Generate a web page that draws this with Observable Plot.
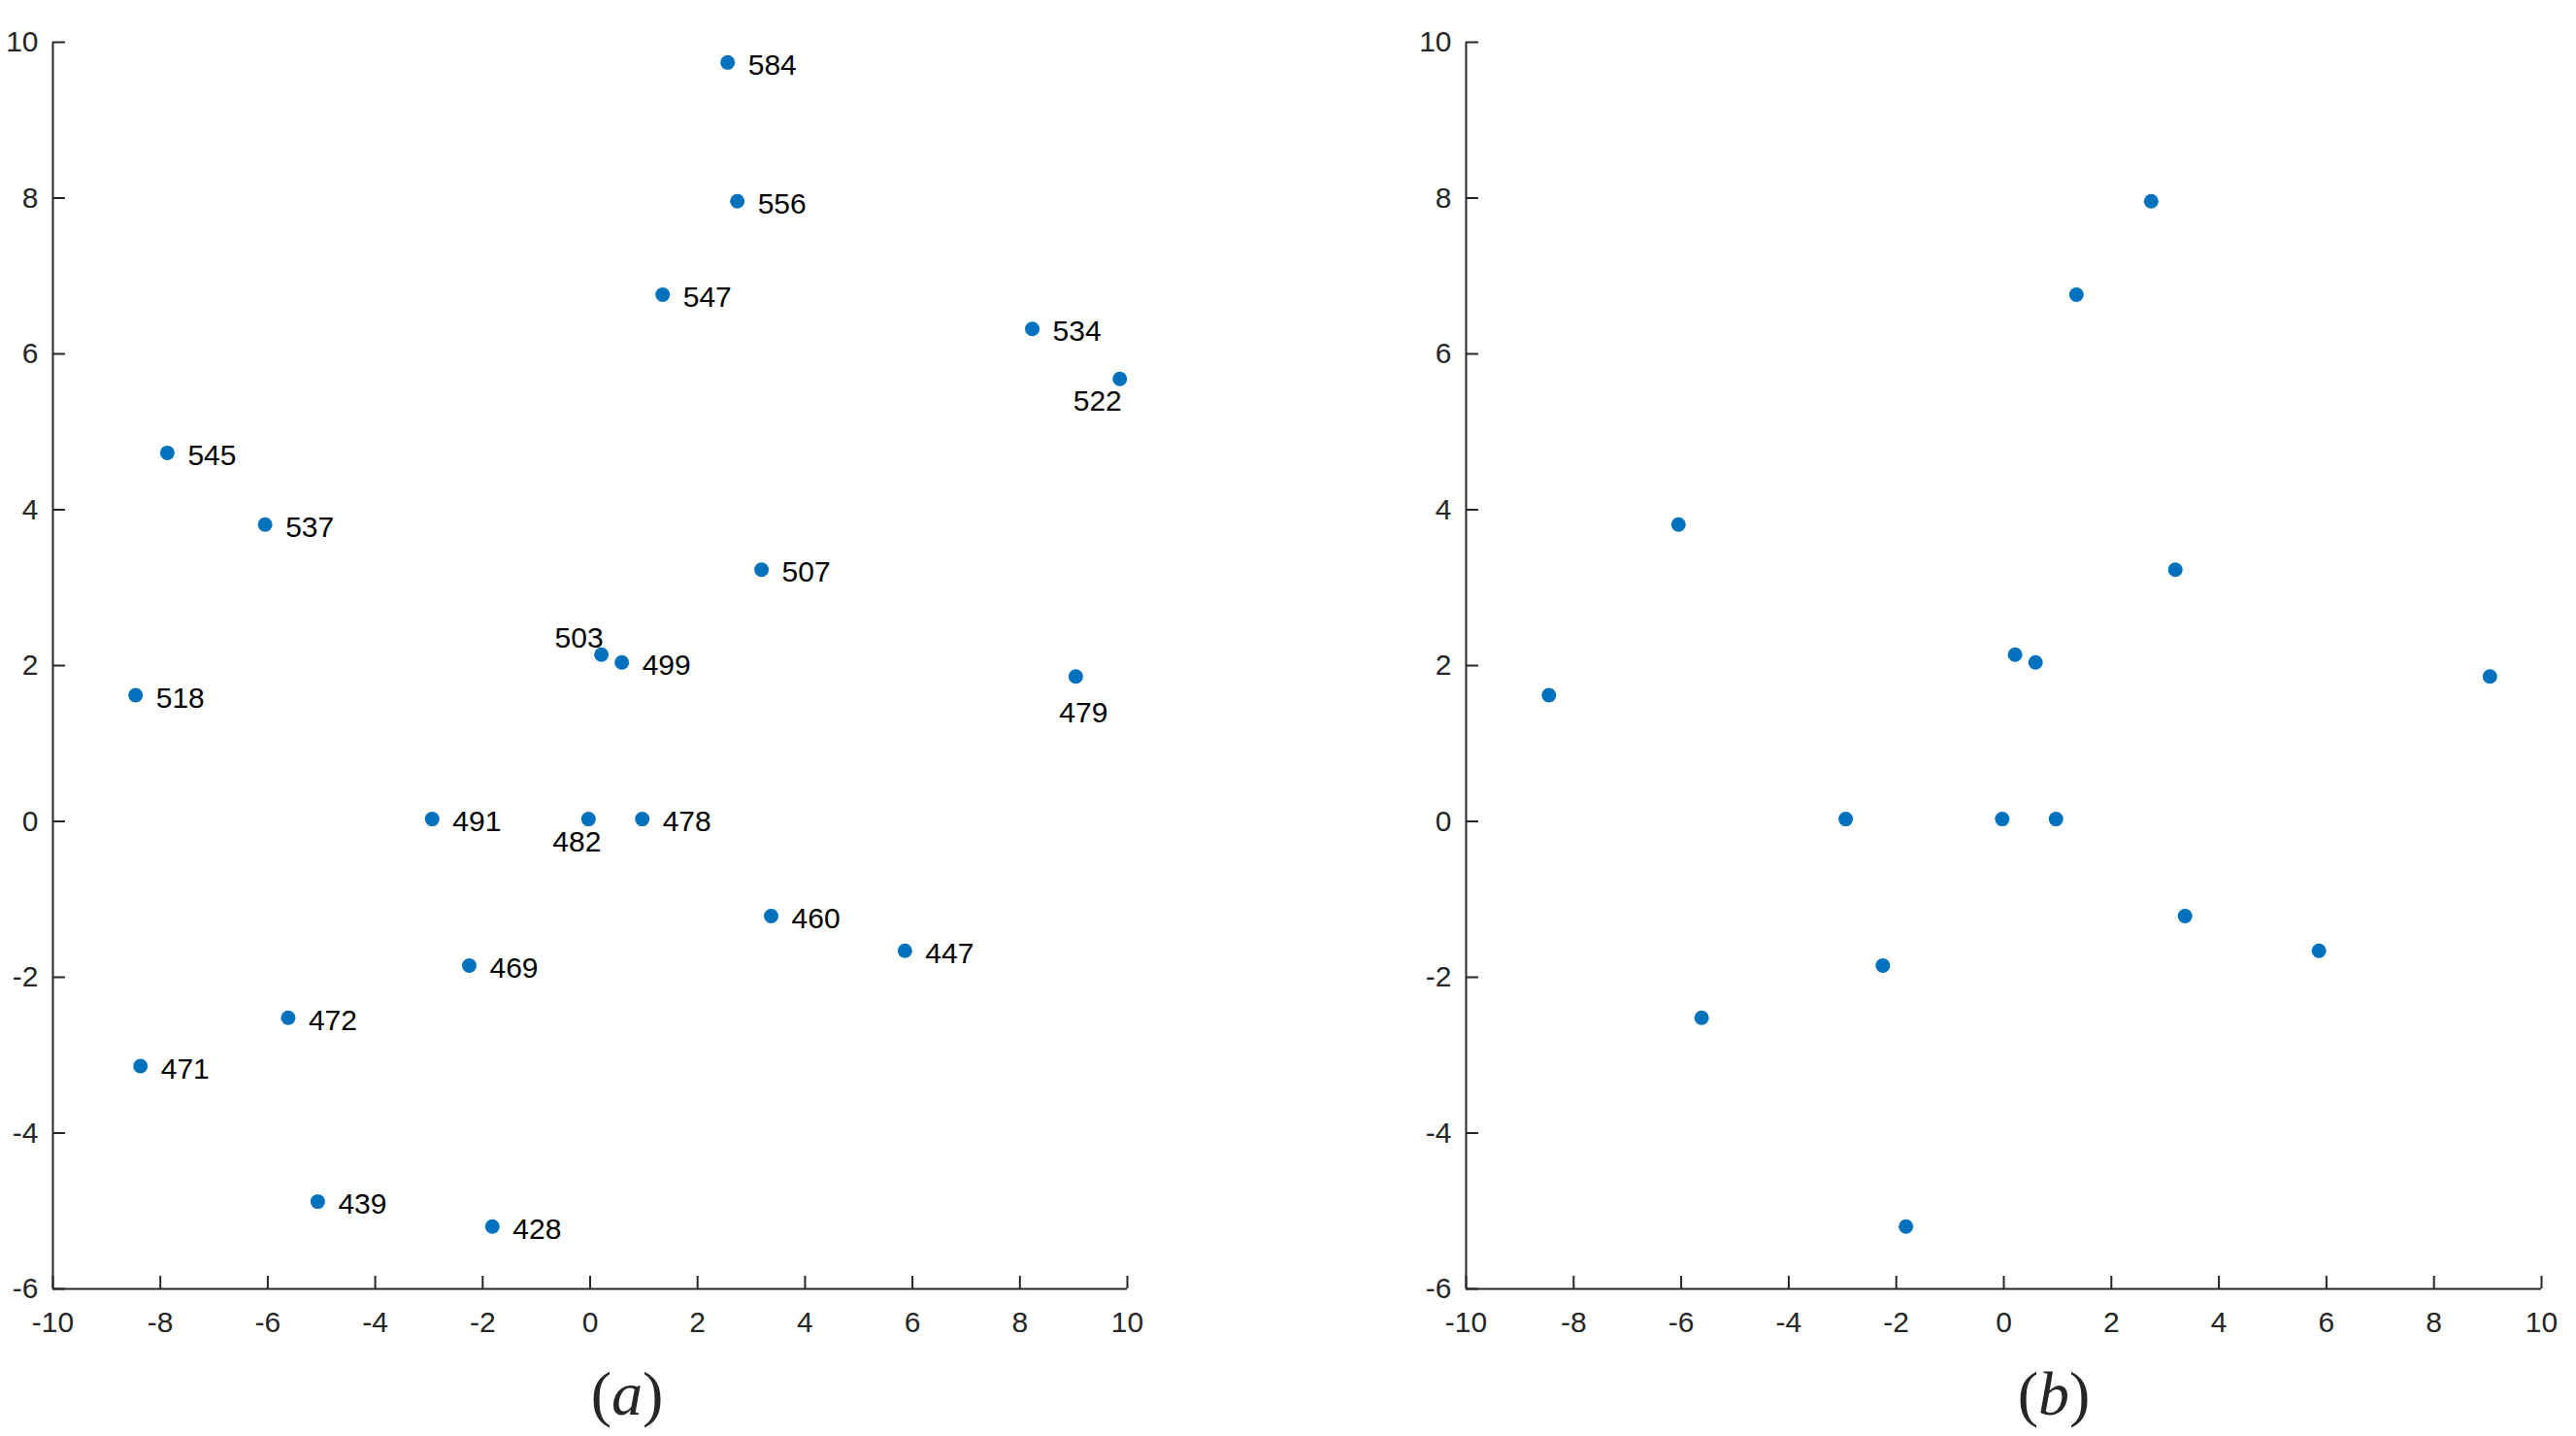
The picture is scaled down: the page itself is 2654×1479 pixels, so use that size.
<!DOCTYPE html>
<html>
<head>
<meta charset="utf-8">
<script src="https://cdn.jsdelivr.net/npm/d3@7"></script>
<script src="https://cdn.jsdelivr.net/npm/@observablehq/plot@0.6"></script>
<style>
  html, body { margin: 0; padding: 0; background: #fff; }
  #wrap { position: relative; width: 2654px; height: 1479px; overflow: hidden; }
  #row { display: flex; flex-direction: row; align-items: flex-start; }
  #row svg { display: block; flex: none; max-width: none !important; }
  .cap { position: absolute; top: 1404px; width: 240px; text-align: center;
         font-family: "Liberation Serif", "Times New Roman", serif; font-size: 64px;
         line-height: 1; color: #262626; }
  .cap i { font-style: italic; }
</style>
</head>
<body>
<div id="wrap">
  <div id="row"></div>
  <div class="cap" style="left:526px">(<i>a</i>)</div>
  <div class="cap" style="left:1996px">(<i>b</i>)</div>
</div>
<script>
// ---- data ----
const ids = [584, 556, 547, 534, 522, 545, 537, 507, 503, 499, 518, 479, 491, 482, 478, 460, 447, 469, 472, 471, 439, 428];
const xs  = [2.56, 2.74, 1.35, 8.23, 9.86, -7.87, -6.05, 3.19, 0.21, 0.59, -8.46, 9.04, -2.94, -0.03, 0.97, 3.37, 5.86, -2.25, -5.62, -8.37, -5.07, -1.82];
const ys  = [9.74, 7.96, 6.76, 6.32, 5.68, 4.73, 3.81, 3.23, 2.14, 2.04, 1.62, 1.86, 0.03, 0.03, 0.03, -1.215, -1.66, -1.85, -2.52, -3.14, -4.88, -5.20];
const panelBIds = [556, 547, 537, 507, 503, 499, 518, 479, 491, 482, 478, 460, 447, 469, 472, 428];
const xTicks = [-10, -8, -6, -4, -2, 0, 2, 4, 6, 8, 10];
const yTicks = [-6, -4, -2, 0, 2, 4, 6, 8, 10];

// label placement groups
const labelAboveLeft = [503];
const labelBelow = [482, 479, 522];

const points = ids.map((id, i) => ({id, x: xs[i], y: ys[i]}));
const pointsB = points.filter(d => panelBIds.includes(d.id));

const AX = "#262626";
const BLUE = "#0072BD";
const FONT = "'Liberation Sans', Arial, Helvetica, sans-serif";

function baseMarks(data) {
  return [
    Plot.ruleX([-10], {stroke: AX, strokeWidth: 2}),
    Plot.ruleY([-6], {stroke: AX, strokeWidth: 2}),
    Plot.axisX(xTicks, {tickSize: -13, tickPadding: 36, tickFormat: d => String(d), label: null,
      color: AX, strokeWidth: 2, fontSize: 30, fontFamily: FONT}),
    Plot.axisY(yTicks, {tickSize: -13, tickPadding: 28, tickFormat: d => String(d), label: null,
      color: AX, strokeWidth: 2, fontSize: 30, fontFamily: FONT}),
    Plot.dot(data, {x: "x", y: "y", r: 7.5, fill: BLUE, stroke: null})
  ];
}

const textStyle = {x: "x", y: "y", text: d => String(d.id), fontSize: 30, fontFamily: FONT, fill: "#000"};
const byId = id => points.filter(d => d.id === id);

const plotA = Plot.plot({
  width: 1201, height: 1387,
  marginLeft: 54, marginRight: 40, marginTop: 43, marginBottom: 60,
  x: {domain: [-10, 10]},
  y: {domain: [-6, 10]},
  style: {fontFamily: FONT, background: "#fff"},
  marks: [
    ...baseMarks(points),
    Plot.text(points.filter(d => !labelAboveLeft.includes(d.id) && !labelBelow.includes(d.id)),
      {...textStyle, textAnchor: "start", lineAnchor: "middle", dx: 21, dy: 3}),
    Plot.text(byId(503), {...textStyle, textAnchor: "end", lineAnchor: "bottom", dx: 2, dy: -7}),
    Plot.text(byId(482), {...textStyle, textAnchor: "middle", lineAnchor: "top", dx: -12, dy: 12}),
    Plot.text(byId(479), {...textStyle, textAnchor: "middle", lineAnchor: "top", dx: 8, dy: 26}),
    Plot.text(byId(522), {...textStyle, textAnchor: "middle", lineAnchor: "top", dx: -23, dy: 12})
  ]
});

const plotB = Plot.plot({
  width: 1453, height: 1387,
  marginLeft: 309, marginRight: 36, marginTop: 43, marginBottom: 60,
  x: {domain: [-10, 10]},
  y: {domain: [-6, 10]},
  style: {fontFamily: FONT, background: "#fff"},
  marks: baseMarks(pointsB)
});

const row = document.getElementById("row");
row.appendChild(plotA);
row.appendChild(plotB);
</script>
</body>
</html>
